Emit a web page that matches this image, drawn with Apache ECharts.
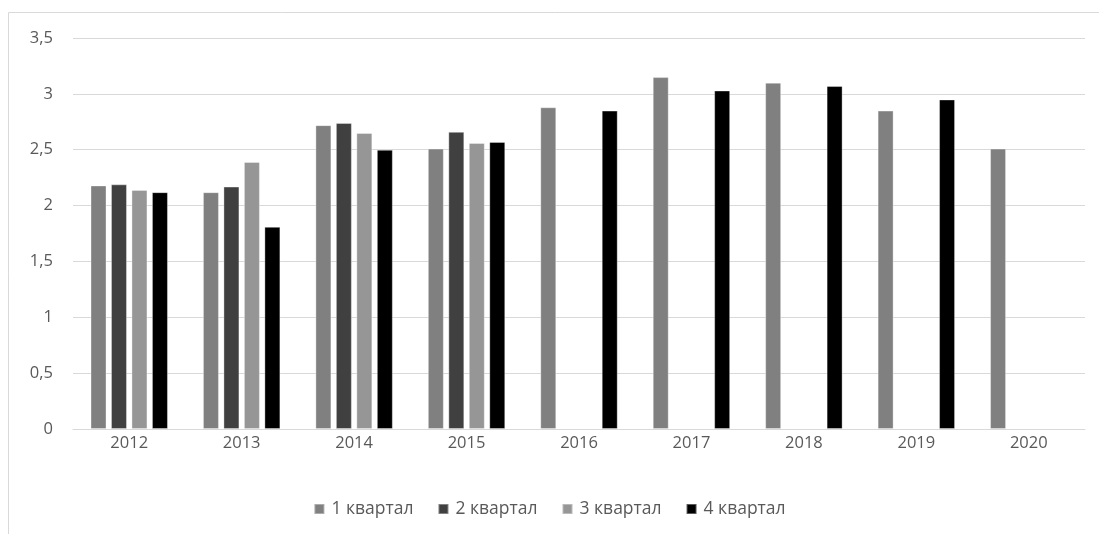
<!DOCTYPE html>
<html><head><meta charset="utf-8">
<script src="https://cdn.jsdelivr.net/npm/echarts@6/dist/echarts.min.js"></script>
<style>html,body{margin:0;padding:0;background:#fff}#c{width:1099px;height:534px}</style>
</head><body><div id="c"></div>
<script>
const categories = ['2012','2013','2014','2015','2016','2017','2018','2019','2020'];
const seriesNames = ['1 квартал','2 квартал','3 квартал','4 квартал'];
const q1 = [2.18, 2.12, 2.72, 2.51, 2.88, 3.15, 3.10, 2.85, 2.51];
const q2 = [2.19, 2.17, 2.74, 2.66, null, null, null, null, null];
const q3 = [2.14, 2.39, 2.65, 2.56, null, null, null, null, null];
const q4 = [2.12, 1.81, 2.50, 2.57, 2.85, 3.03, 3.07, 2.95, null];
const colors = ['#808080','#404040','#969696','#000000'];
const font = '"Open Sans", sans-serif';
const chart = echarts.init(document.getElementById('c'));
const data = [q1,q2,q3,q4];
chart.setOption({
  animation:false,
  graphic:[{type:'rect',shape:{x:8.5,y:12.5,width:1200,height:600},style:{fill:'none',stroke:'#d9d9d9',lineWidth:1},silent:true}],
  grid:{left:73,right:14,top:38,bottom:105,containLabel:false},
  legend:{top:495,left:'center',itemWidth:10,itemHeight:10,itemGap:24,icon:'rect',
    textStyle:{color:'#595959',fontSize:17.5,fontFamily:font,padding:[0,0,0,2]},data:seriesNames},
  xAxis:{type:'category',data:categories,axisTick:{show:false},
    axisLine:{lineStyle:{color:'#d9d9d9',width:1}},
    axisLabel:{color:'#595959',fontSize:16.5,fontFamily:font,margin:6}},
  yAxis:{type:'value',min:0,max:3.5,interval:0.5,
    axisLabel:{color:'#595959',fontSize:16.5,fontFamily:font,margin:20,formatter:v=>String(v).replace('.',',')},
    splitLine:{lineStyle:{color:'#d9d9d9',width:1}},axisLine:{show:false},axisTick:{show:false}},
  series:data.map((d,i)=>({name:seriesNames[i],type:'bar',data:d,barWidth:16,barGap:'28%',
    itemStyle:{color:colors[i],borderColor:'rgba(255,255,255,0.35)',borderWidth:1}}))
});
</script></body></html>
